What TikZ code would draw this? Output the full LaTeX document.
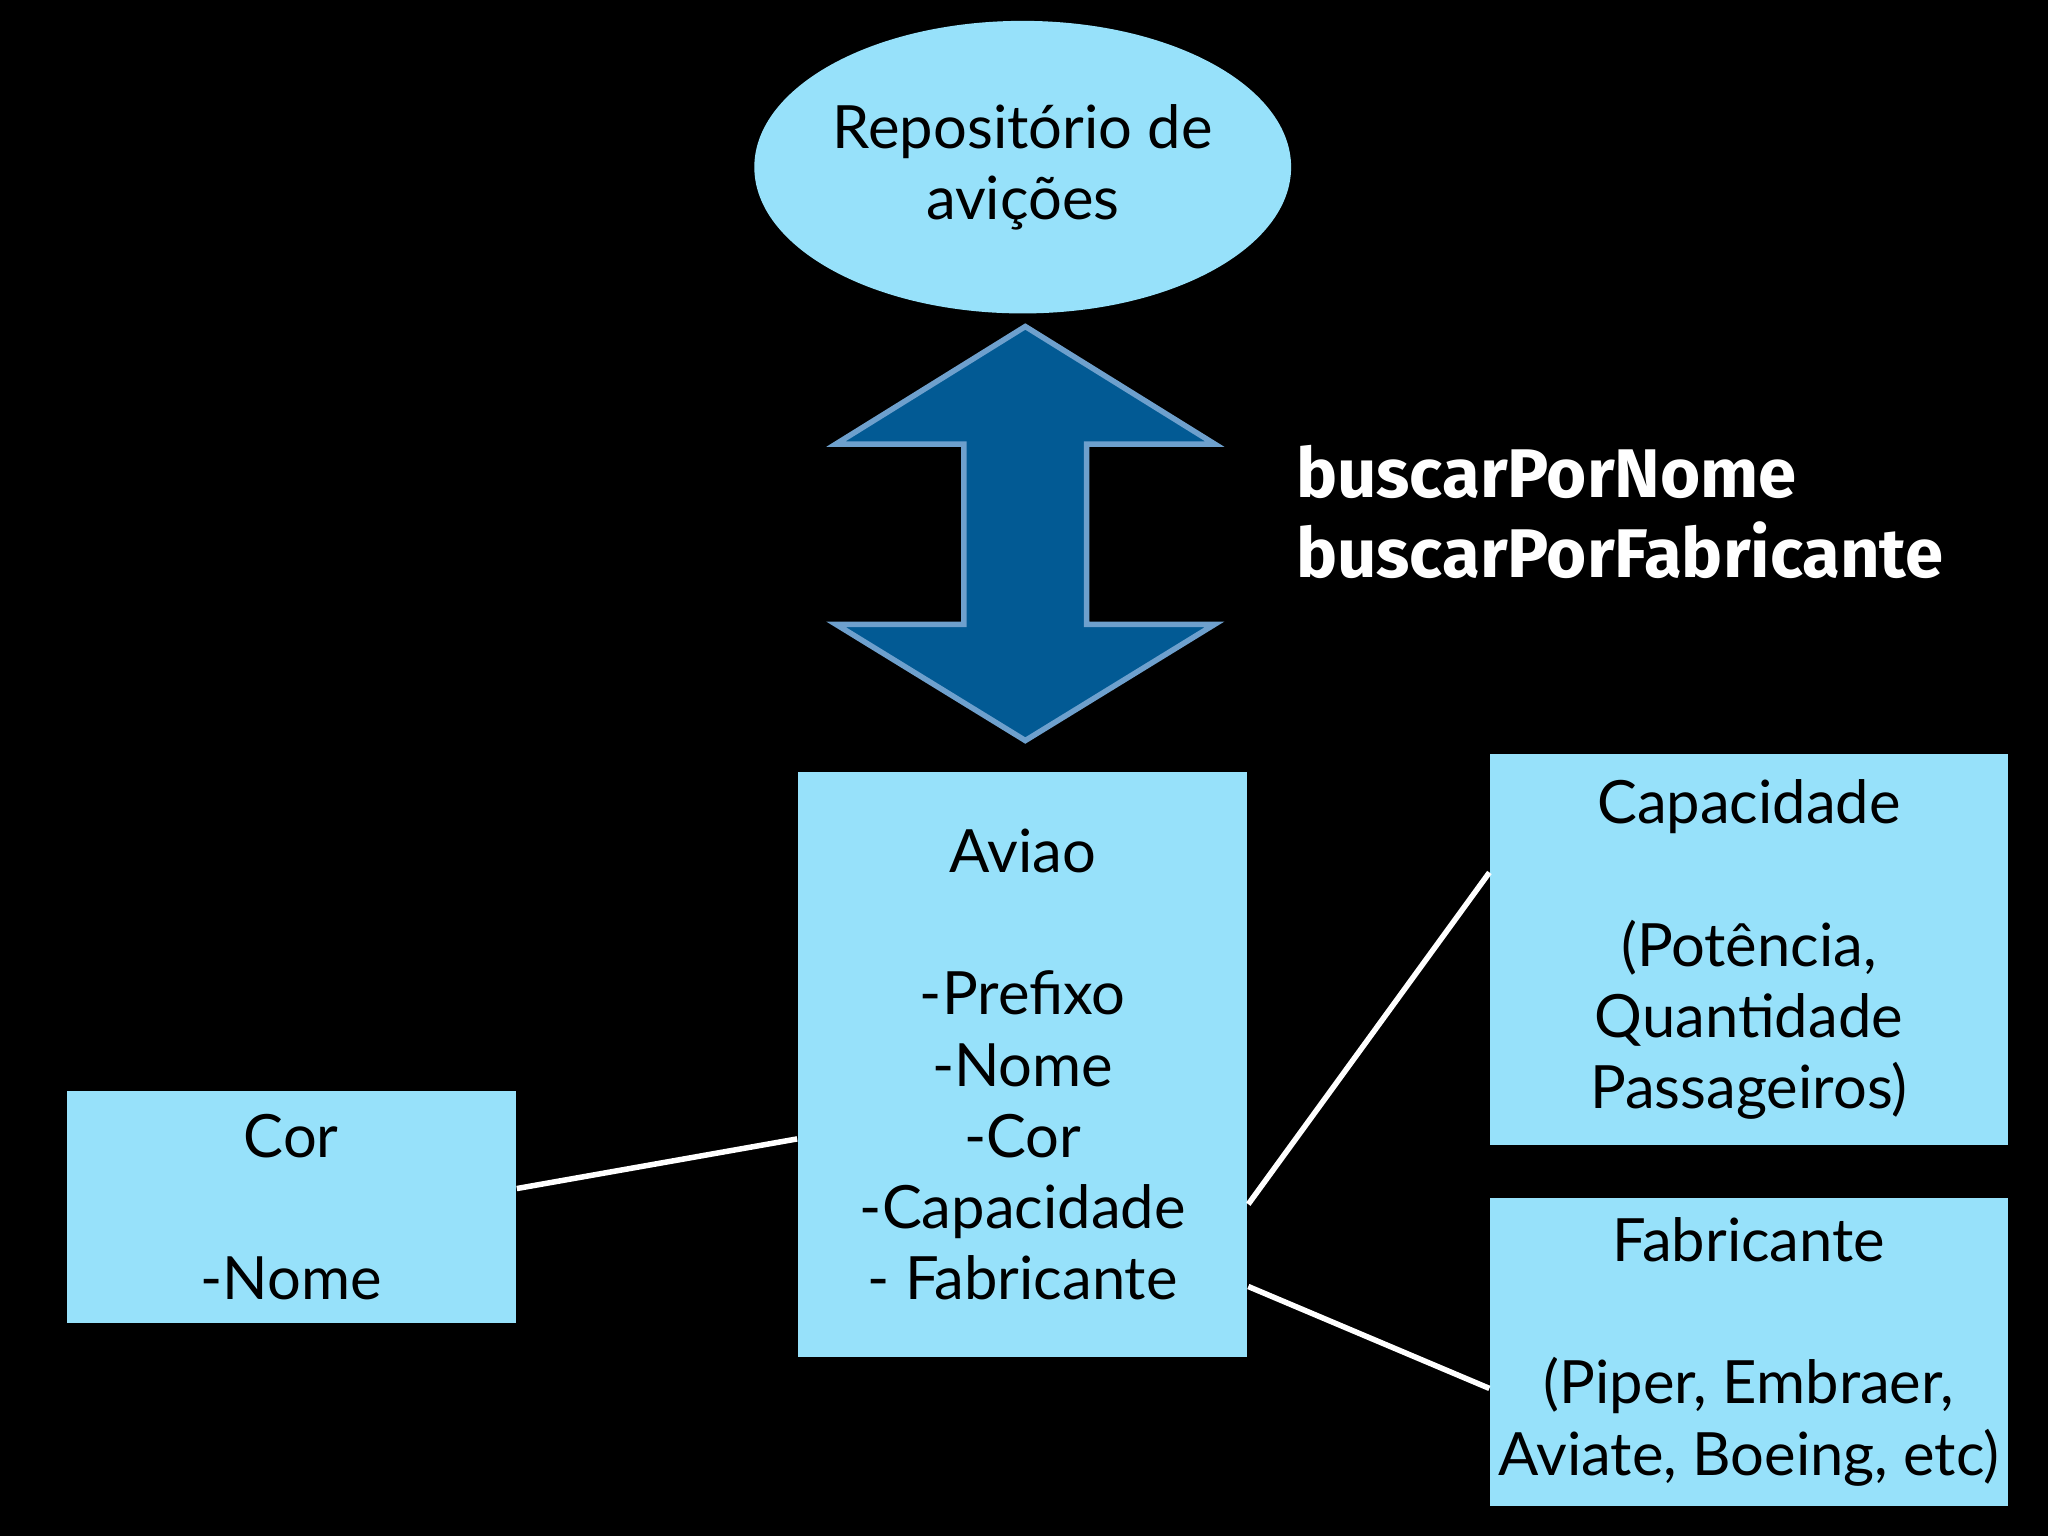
\documentclass[tikz,border=0pt]{standalone}
\usepackage{fontspec}
\setmainfont{Lato}
\newfontfamily\handfont{Fira Sans}
\definecolor{mylightblue}{RGB}{151,225,250}
\definecolor{mydarkblue}{RGB}{2,90,148}
\definecolor{myborder}{RGB}{110,160,205}
\usetikzlibrary{positioning,shapes.geometric}
\tikzstyle{box}=[fill=mylightblue,inner sep=0pt,align=center,font=\fontsize{13}{15.5}\selectfont]
\tikzstyle{link}=[white,line width=1.2pt]
\begin{document}
\begin{tikzpicture}[x=1cm,y=1cm]
\fill[black] (0,0) rectangle (15.68,11.76);
\node[box,ellipse,minimum width=3.76cm,minimum height=2.24cm] (repo) at (7.83,10.48) {Repositório de\\avições};
\node[box,minimum width=3.44cm,minimum height=4.48cm] (aviao) at (7.83,3.61)
  {Aviao\\[15.5pt]-Prefixo\\-Nome\\-Cor\\-Capacidade\\- Fabricante};
\node[box,minimum width=3.44cm,minimum height=1.78cm] (cor) at (2.23,2.52) {Cor\\[15.5pt]-Nome};
\node[box,minimum width=3.96cm,minimum height=3.0cm] (cap) at (13.39,4.49)
  {Capacidade\\[15.5pt](Potência,\\Quantidade\\Passageiros)};
\node[box,minimum width=3.96cm,minimum height=2.36cm] (fab) at (13.39,1.41)
  {Fabricante\\[15.5pt](Piper, Embraer,\\Aviate, Boeing, etc)};
% double arrow
\draw[fill=mydarkblue,draw=myborder,line width=1.2pt]
  (7.85,9.26) -- (9.30,8.36) -- (8.32,8.36) -- (8.32,6.98) -- (9.30,6.98)
  -- (7.85,6.09) -- (6.40,6.98) -- (7.38,6.98) -- (7.38,8.36) -- (6.40,8.36) -- cycle;
\node[anchor=west,align=left,text=white,font=\handfont\bfseries\fontsize{15}{17.5}\selectfont] (ops) at (9.80,7.84)
  {buscarPorNome\\buscarPorFabricante};
\draw[link] ([yshift=1.4mm]cor.east) -- ([yshift=-5.7mm]aviao.west);
\draw[link] ([yshift=-10.7mm]aviao.east) -- ([yshift=5.9mm]cap.west);
\draw[link] ([yshift=-17mm]aviao.east) -- ([yshift=-2.8mm]fab.west);
\end{tikzpicture}
\end{document}
